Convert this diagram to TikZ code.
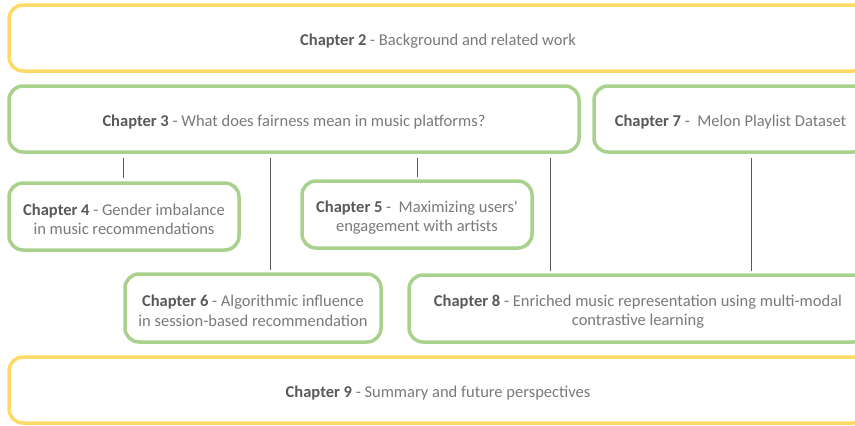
\documentclass[tikz,border=0pt]{standalone}
\usepackage{fontspec}
\setmainfont{Carlito}
\begin{document}
\begin{tikzpicture}[x=1pt,y=-1pt,
  every node/.style={font=\fontsize{16.5}{19.5}\selectfont, text=txtgray, align=center, outer sep=0pt, inner sep=0pt},
  gbox/.style={draw=boxgreen, line width=3.5pt, rounded corners=14pt, fill=white},
  ybox/.style={draw=boxyellow, line width=3.5pt, rounded corners=14pt, fill=white},
  ctext/.style={label={[yshift=-3pt]center:{#1}}},
  conn/.style={draw=linegray, line width=0.9pt}]
\definecolor{boxgreen}{HTML}{A9D18E}
\definecolor{boxyellow}{HTML}{FFD966}
\definecolor{txtgray}{HTML}{7A7A7A}
\definecolor{boldgray}{HTML}{595959}
\definecolor{linegray}{HTML}{595959}
\newcommand{\chap}[1]{\textcolor{boldgray}{\textbf{Chapter #1}}}
\path[use as bounding box] (0,0) rectangle (855,426);
\clip (0,0) rectangle (855,426);
\node[ybox, minimum width=858pt, minimum height=66pt, ctext={\chap{2} - Background and related work}] (ch2) at (438,38) {};
\node[gbox, minimum width=570pt, minimum height=66pt, ctext={\chap{3} - What does fairness mean in music platforms?}] (ch3) at (294,119) {};
\node[gbox, minimum width=273pt, minimum height=66pt, ctext={\chap{7} -\ \ Melon Playlist Dataset}] (ch7) at (730.5,119) {};
\node[gbox, minimum width=230pt, minimum height=67pt, ctext={\chap{4} - Gender imbalance\\in music recommendations}] (ch4) at (124,216.5) {};
\node[gbox, minimum width=230pt, minimum height=67pt, ctext={\chap{5} -\ \ Maximizing users\textquotesingle\\engagement with artists}] (ch5) at (417,214.5) {};
\node[gbox, minimum width=256pt, minimum height=68pt, ctext={\chap{6} - Algorithmic influence\\in session-based recommendation}] (ch6) at (253,308) {};
\node[gbox, minimum width=458pt, minimum height=67pt, ctext={\chap{8} - Enriched music representation using multi-modal\\contrastive learning}] (ch8) at (638,308.5) {};
\node[ybox, minimum width=858pt, minimum height=66pt, ctext={\chap{9} - Summary and future perspectives}] (ch9) at (438,390) {};
\coordinate (l4) at (123,0);
\coordinate (l6) at (270,0);
\coordinate (l5) at (417,0);
\coordinate (l8) at (550,0);
\coordinate (l7) at (751,0);
\draw[conn] ([yshift=-6pt]ch3.south -| l4) -- ([yshift=5pt]ch4.north -| l4);
\draw[conn] ([yshift=-6pt]ch3.south -| l6) -- ([yshift=4pt]ch6.north -| l6);
\draw[conn] ([yshift=-6pt]ch3.south -| l5) -- ([yshift=4pt]ch5.north -| l5);
\draw[conn] ([yshift=-6pt]ch3.south -| l8) -- ([yshift=4pt]ch8.north -| l8);
\draw[conn] ([yshift=-6pt]ch7.south -| l7) -- ([yshift=4pt]ch8.north -| l7);
\end{tikzpicture}
\end{document}
